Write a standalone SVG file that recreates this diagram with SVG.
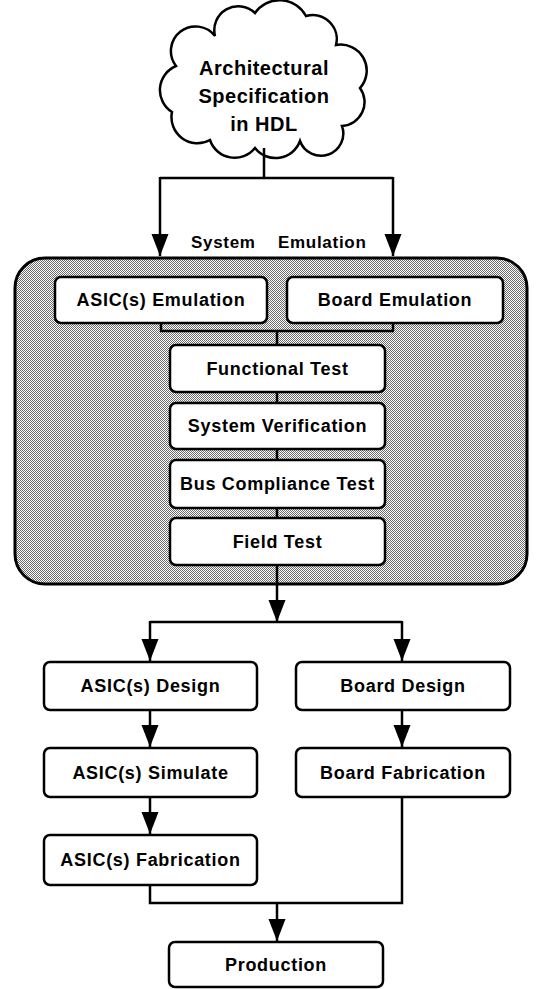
<svg xmlns="http://www.w3.org/2000/svg" width="540" height="989" viewBox="0 0 540 989">
<style>
.box{fill:#fff;stroke:#000;stroke-width:2.5}
.lbl{font-family:"Liberation Sans",Arial,sans-serif;font-weight:bold;font-size:18px;letter-spacing:0.7px;text-anchor:middle;fill:#000}
.cl{font-family:"Liberation Sans",Arial,sans-serif;font-weight:bold;font-size:20px;letter-spacing:0.5px;text-anchor:middle;fill:#000}
.ln{fill:none;stroke:#000;stroke-width:2.5}
.arr{fill:none;stroke:#000;stroke-width:2.5;marker-end:url(#ah)}
</style>
<defs>
<pattern id="dots" width="2" height="2" patternUnits="userSpaceOnUse">
<rect width="2" height="2" fill="#fff"/>
<rect width="1" height="1" fill="#6a6a6a"/>
<rect x="1" y="1" width="1" height="1" fill="#6a6a6a"/>
</pattern>
<marker id="ah" markerUnits="userSpaceOnUse" markerWidth="24" markerHeight="18" refX="22" refY="8.5" orient="auto">
<path d="M0,0 L22,8.5 L0,17 Z" fill="#000"/>
</marker>
</defs>

<g id="cloud">
<path class="box" d="M172,112 A26,26 0 0 1 176,66 A24,24 0 0 1 215,36 A24,24 0 0 1 255,13 A30,30 0 0 1 306,16 A24,24 0 0 1 336,45 A26,26 0 0 1 360,88 A24,24 0 0 1 342,126 A22,22 0 0 1 300,141 A26,26 0 0 1 255,148 A26,26 0 0 1 210,140 A26,26 0 0 1 172,112 Z"/>
<text class="cl" x="264" y="75">Architectural</text>
<text class="cl" x="264" y="103">Specification</text>
<text class="cl" x="264" y="131">in HDL</text>
</g>

<g id="system_emulation">
<rect x="15" y="258" width="512" height="326" rx="30" ry="30" fill="url(#dots)" stroke="#000" stroke-width="3"/>
<text class="lbl" x="191" y="248" style="text-anchor:start;font-size:17px"><tspan x="191">System</tspan><tspan x="278">Emulation</tspan></text>
</g>

<g id="connectors">
<path class="ln" d="M264,148 V178 M160,178 H393"/>
<path class="arr" d="M160,177 V256"/>
<path class="arr" d="M393,177 V256"/>
<path class="ln" d="M161,323 V331 M393,323 V331 M160,331 H394 M277,331 V345"/>
<path class="ln" d="M277,392 V403 M277,449 V460 M277,508 V518"/>
<path class="arr" d="M277,565 V622"/>
<path class="ln" d="M150,622 H402"/>
<path class="arr" d="M150,621 V661"/>
<path class="arr" d="M402,621 V661"/>
<path class="arr" d="M150,710 V747"/>
<path class="arr" d="M402,710 V747"/>
<path class="arr" d="M150,797 V834"/>
<path class="ln" d="M150,885 V903 H402 V797"/>
<path class="arr" d="M277,903 V941"/>
</g>

<g id="asic_emulation"><rect class="box" x="55" y="277" width="212" height="46" rx="6"/><text class="lbl" x="161" y="306">ASIC(s) Emulation</text></g>
<g id="board_emulation"><rect class="box" x="287" y="277" width="216" height="46" rx="6"/><text class="lbl" x="395" y="306">Board Emulation</text></g>
<g id="functional_test"><rect class="box" x="170" y="345" width="215" height="47" rx="6"/><text class="lbl" x="277.5" y="375">Functional Test</text></g>
<g id="system_verification"><rect class="box" x="170" y="403" width="215" height="46" rx="6"/><text class="lbl" x="277.5" y="432">System Verification</text></g>
<g id="bus_compliance_test"><rect class="box" x="170" y="460" width="215" height="48" rx="6"/><text class="lbl" x="277.5" y="490">Bus Compliance Test</text></g>
<g id="field_test"><rect class="box" x="170" y="518" width="215" height="47" rx="6"/><text class="lbl" x="277.5" y="548">Field Test</text></g>

<g id="asic_design"><rect class="box" x="44" y="662" width="213" height="48" rx="6"/><text class="lbl" x="150.5" y="692">ASIC(s) Design</text></g>
<g id="board_design"><rect class="box" x="296" y="662" width="214" height="48" rx="6"/><text class="lbl" x="403" y="692">Board Design</text></g>
<g id="asic_simulate"><rect class="box" x="44" y="748" width="213" height="49" rx="6"/><text class="lbl" x="150.5" y="779">ASIC(s) Simulate</text></g>
<g id="board_fabrication"><rect class="box" x="296" y="748" width="214" height="49" rx="6"/><text class="lbl" x="403" y="779">Board Fabrication</text></g>
<g id="asic_fabrication"><rect class="box" x="44" y="835" width="213" height="50" rx="6"/><text class="lbl" x="150.5" y="866">ASIC(s) Fabrication</text></g>
<g id="production"><rect class="box" x="169" y="942" width="214" height="45" rx="6"/><text class="lbl" x="276" y="971">Production</text></g>
</svg>
